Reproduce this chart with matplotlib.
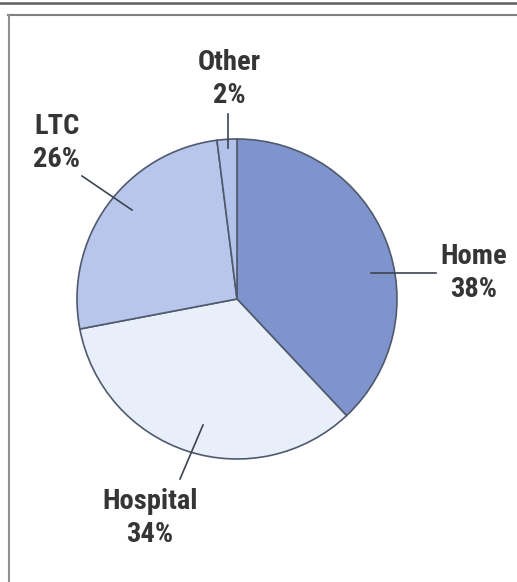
import matplotlib.pyplot as plt
from matplotlib.lines import Line2D

# care setting shares
labels = ["Home", "Hospital", "LTC", "Other"]
shares = [38, 34, 26, 2]
colors = ["#7f94cc", "#e9eff9", "#b8c6ec", "#b3c2ea"]

W, H = 517, 582
fig = plt.figure(figsize=(W / 100, H / 100), dpi=100)
ax = fig.add_axes([0, 0, 1, 1])

# frame lines
fig.add_artist(Line2D([0, W], [H - 2.5, H - 2.5], transform=ax.transData, color="#5e5e5e", lw=1.8))
fig.add_artist(Line2D([8, W], [H - 15, H - 15], transform=ax.transData, color="#808080", lw=1.5))
fig.add_artist(Line2D([8.5, 8.5], [0, H - 15], transform=ax.transData, color="#909090", lw=1.5))

cx, cy, r = 237, H - 299, 160
ax.pie(shares, colors=colors, startangle=90, counterclock=False,
       center=(cx, cy), radius=r, frame=True,
       wedgeprops=dict(edgecolor="#4f5a6e", linewidth=1.2))
ax.set_xlim(0, W)
ax.set_ylim(0, H)
ax.set_aspect("equal")
ax.axis("off")

txt = dict(fontfamily=["Roboto Condensed", "Roboto", "DejaVu Sans"], fontweight="bold",
           fontsize=20.5, color="#353535", ha="center", va="center", linespacing=1.28)

# label text and leader lines
callouts = {
    "Home": ((474, H - 273), [(371, 436), (H - 273, H - 273)]),
    "Hospital": ((150, H - 518), [(203, 180), (H - 425, H - 479)]),
    "LTC": ((57, H - 143), [(82, 132), (H - 176, H - 210)]),
    "Other": ((229, H - 79), [(228, 228), (H - 114, H - 148)]),
}
for name, pct in zip(labels, shares):
    (tx, ty), (lx, ly) = callouts[name]
    ax.text(tx, ty, f"{name}\n{pct}%", **txt)
    ax.plot(lx, ly, color="#3d4450", lw=1.2)

fig.savefig("out.png", dpi=100, facecolor="white")
